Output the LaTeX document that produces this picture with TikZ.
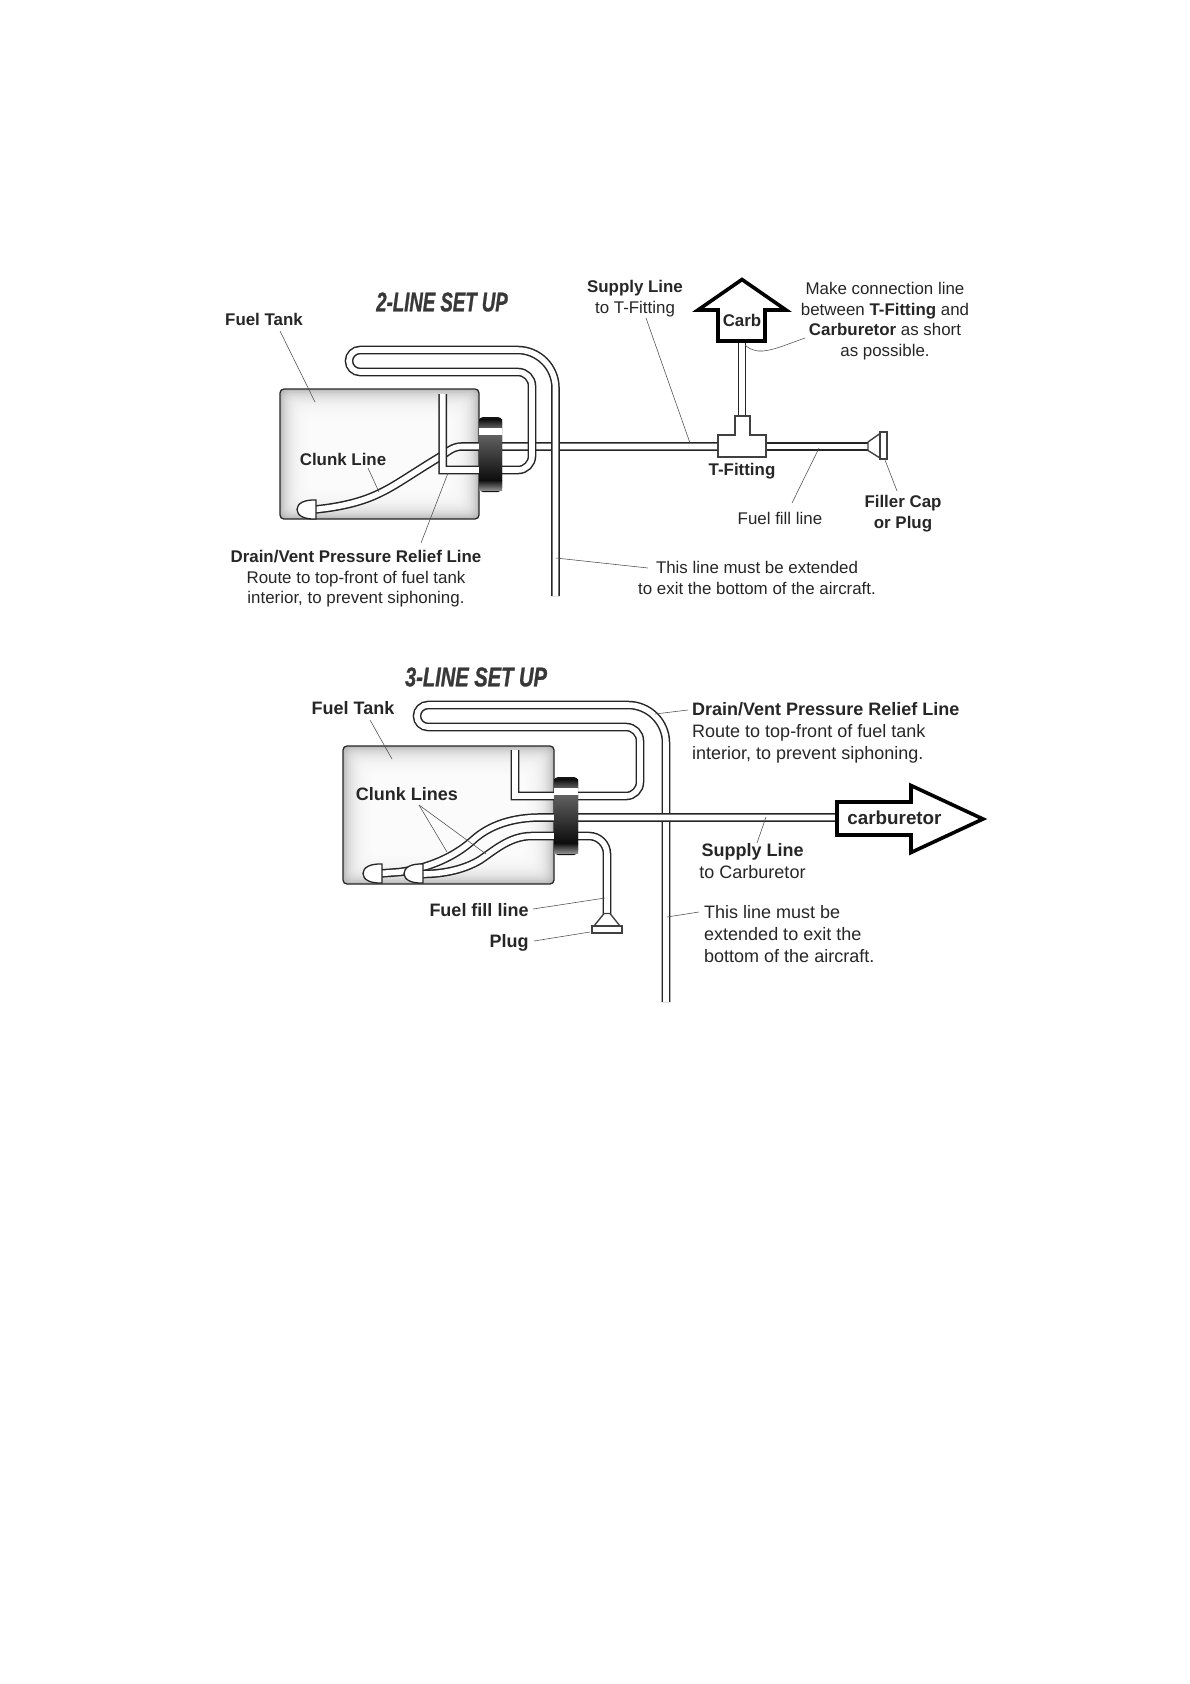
\documentclass[tikz,border=0pt]{standalone}
\usepackage{fontspec}
\setmainfont{Liberation Sans}
\newfontfamily\titlefont{Liberation Sans}[BoldItalicFeatures={FakeBold=1.2}]
\usepackage{xcolor}
\definecolor{inkline}{HTML}{262626}

\tikzset{
  tube/.style={draw=inkline, line width=1.5pt, double=white, double distance=5.6pt},
  leader/.style={draw=black!70, line width=0.55pt},
  label/.style={text=inkline, font=\fontsize{16.9}{20.6}\selectfont, inner sep=1pt, align=center},
  boldlabel/.style={label, font=\fontsize{16.9}{20.6}\selectfont\bfseries},
  biglabel/.style={label, font=\fontsize{18}{21.9}\selectfont},
  bigbold/.style={label, font=\fontsize{18}{21.9}\selectfont\bfseries},
  settitle/.style={text=black!78, font=\titlefont\fontsize{27}{27}\selectfont\bfseries\itshape, inner sep=0pt},
  flow/.style={draw=black, line width=3.6pt, fill=white, miter limit=10},
  fitting/.style={draw=black!75, line width=1.4pt, fill=white}
}

% soft grey rim of a tank, x0 y0 x1 y1
\newcommand{\tankbody}[4]{
  \fill[black!26, rounded corners=4pt] (#1,#2) rectangle (#3,#4);
  \foreach \i in {1,...,18}
    \fill[white, opacity=0.2, rounded corners=8pt]
      (#1+1.9*\i,#2+1.9*\i) rectangle (#3-1.9*\i,#4-1.9*\i);
  \draw[inkline, line width=1.3pt, rounded corners=4pt] (#1,#2) rectangle (#3,#4);
}

% bung on the tank front, x0 y0 x1 y1
\newcommand{\tankbung}[4]{
  \fill[black!92, rounded corners=4pt] (#1,#2) rectangle (#3,#4);
  \fill[top color=black!95, bottom color=black!62] (#1,#2+2) rectangle (#3,#2+11);
  \fill[white] (#1,#2+11) rectangle (#3,#2+18);
  \fill[top color=black!62, bottom color=black!95] (#1,#2+18) rectangle (#3,#4-12);
  \fill[top color=black!95, bottom color=black!45] (#1,#4-12) rectangle (#3,#4-2);
}

% clunk weight, flat side at x
\newcommand{\clunkcap}[2]{
  \draw[inkline, line width=1.3pt, fill=white] (#1,#2-9.5) .. controls (#1-12,#2-10) and (#1-19,#2-6) .. (#1-19,#2)
    .. controls (#1-19,#2+6) and (#1-12,#2+10) .. (#1,#2+9.5) -- cycle;
}

\begin{document}
\begin{tikzpicture}[x=1pt, y=-1pt]
    \useasboundingbox[fill=white] (0,0) rectangle (1190,1684);

    % 2-line set up
    \node[settitle, xscale=0.69] (titleTwo) at (442,302) {2-LINE SET UP};
    \tankbody{280}{389}{479}{519}

    % Clunk line and supply
    \draw[tube] (718,446.5) -- (462,446.5) .. controls (452,446.5) and (448,452) .. (438,458)
        .. controls (410,475) and (395,486) .. (380,493) .. controls (362,502) and (340,507) .. (315,509.5);
    \clunkcap{316}{509.5}

    % Vent line
    \draw[tube, rounded corners=38pt] (555.5,596) -- (555.5,350)
        [rounded corners=11pt] -- (349,350) -- (349,372)
        [rounded corners=14pt] -- (532,372) -- (532,470)
        [rounded corners=0pt] -- (442.7,470) -- (442.7,394);
    \tankbung{479}{417}{502}{492}

    % T fitting, carb arrow and filler
    \draw[tube] (742,338) -- (742,417);
    \draw[tube] (764,446.5) -- (868,446.5);
    \draw[flow] (718,341) -- (718,310) -- (698,310) -- (742,279.5) -- (786,310) -- (765,310) -- (765,341) -- cycle;
    \draw[fitting] (718,435) -- (735,435) -- (735,416) -- (750,416) -- (750,435) -- (766,435) -- (766,457) -- (718,457) -- cycle;
    \draw[fitting] (868,442) -- (880,433.5) -- (880,458) -- (868,450.5) -- cycle;
    \draw[fitting] (880,432) rectangle (887,459);

    % Labels
    \node[boldlabel] (lblTankA) at (264,319.5) {Fuel Tank};
    \node[boldlabel] (lblClunkA) at (343,459) {Clunk Line};
    \node[label, anchor=north] (lblDrainA) at (356,549) {\textbf{Drain/Vent Pressure Relief Line}\\Route to top-front of fuel tank\\interior, to prevent siphoning.};
    \node[label, anchor=north] (lblSupplyA) at (635,279) {\textbf{Supply Line}\\to T-Fitting};
    \node[boldlabel] (lblCarbA) at (742,320) {Carb};
    \node[label, anchor=north] (lblShort) at (885,281) {Make connection line\\between \textbf{T-Fitting} and\\\textbf{Carburetor} as short\\as possible.};
    \node[boldlabel] (lblTee) at (742,471) {T-Fitting};
    \node[label] (lblFillA) at (780,518) {Fuel fill line};
    \node[boldlabel, anchor=north] (lblCap) at (903,494) {Filler Cap\\or Plug};
    \node[label, anchor=north] (lblExitA) at (757,560) {This line must be extended\\to exit the bottom of the aircraft.};

    % Leaders
    \coordinate (fromTankA) at (280,331);
    \coordinate (atTankA) at (315,402);
    \coordinate (fromClunkA) at (368,468);
    \coordinate (atClunkA) at (379,492);
    \coordinate (fromDrainA) at (421,543);
    \coordinate (atDrainA) at (448,473);
    \coordinate (fromSupplyA) at (646,318);
    \coordinate (atSupplyA) at (690,443);
    \coordinate (fromExitA) at (648,568);
    \coordinate (atExitA) at (556,558);
    \coordinate (fromShort) at (805,338);
    \coordinate (atShort) at (745,345);
    \coordinate (fromFillA) at (792,503);
    \coordinate (atFillA) at (819,448);
    \coordinate (fromCap) at (897,491);
    \coordinate (atCap) at (885,460);
    \draw[leader] (fromTankA) -- (atTankA);
    \draw[leader] (fromClunkA) -- (atClunkA);
    \draw[leader] (fromDrainA) -- (atDrainA);
    \draw[leader] (fromSupplyA) -- (atSupplyA);
    \draw[leader] (fromExitA) -- (atExitA);
    \draw[leader] (fromShort) .. controls (785,345) and (770,352) .. (758,351) .. controls (752,350) and (748,348) .. (atShort);
    \draw[leader] (fromFillA) -- (atFillA);
    \draw[leader] (fromCap) -- (atCap);

    % 3-line set up
    \node[settitle, xscale=0.745] (titleThree) at (476,677) {3-LINE SET UP};
    \tankbody{343}{746}{554}{884}

    % Vent line
    \draw[tube, rounded corners=38pt] (666,1002) -- (666,705)
        [rounded corners=11pt] -- (417,705) -- (417,727)
        [rounded corners=14pt] -- (640,727) -- (640,796)
        [rounded corners=0pt] -- (515,796) -- (515,750);

    % Clunk lines
    \draw[tube] (840,817.5) -- (540,817.5) .. controls (515,817.5) and (490,824) .. (472,841)
        .. controls (455,856) and (430,868) .. (400,872) -- (380,873.5);
    \clunkcap{382}{873.5}
    \draw[tube] (560,836) -- (532,836) .. controls (510,836) and (495,850) .. (480,860)
        .. controls (465,869) and (445,874) .. (422,874);
    \clunkcap{423}{873.5}

    % Fill line and plug
    \draw[tube, rounded corners=18pt] (570,836) -- (607,836) -- (607,914);
    \draw[fitting] (604,913.5) -- (610,913.5) -- (620,926) -- (594,926) -- cycle;
    \draw[fitting] (592,926) rectangle (622,933);
    \tankbung{554}{777}{578}{855}

    % Carburetor arrow
    \draw[flow] (837,802) -- (911,802) -- (911,785.5) -- (983,819) -- (911,852.5) -- (911,835) -- (837,835) -- cycle;

    % Labels
    \node[bigbold] (lblTankB) at (353,708.5) {Fuel Tank};
    \node[bigbold] (lblClunkB) at (407,794.5) {Clunk Lines};
    \node[biglabel, anchor=north west, align=left] (lblDrainB) at (691,701.5) {\textbf{Drain/Vent Pressure Relief Line}\\Route to top-front of fuel tank\\interior, to prevent siphoning.};
    \node[bigbold, font=\fontsize{18.8}{21}\selectfont\bfseries] (lblCarbB) at (894.5,817.5) {carburetor};
    \node[biglabel, anchor=north] (lblSupplyB) at (752.5,842.5) {\textbf{Supply Line}\\to Carburetor};
    \node[biglabel, anchor=north west, align=left] (lblExitB) at (703,904) {This line must be\\extended to exit the\\bottom of the aircraft.};
    \node[bigbold] (lblFillB) at (479,910.5) {Fuel fill line};
    \node[bigbold] (lblPlug) at (509,942.5) {Plug};

    % Leaders
    \coordinate (fromTankB) at (370,720);
    \coordinate (atTankB) at (392,759);
    \coordinate (fromClunkB) at (419,805);
    \coordinate (atClunkC) at (447,852);
    \coordinate (atClunkD) at (486,854);
    \coordinate (fromDrainB) at (688,710);
    \coordinate (atDrainB) at (655,714);
    \coordinate (fromSupplyB) at (757,843);
    \coordinate (atSupplyB) at (766,817);
    \coordinate (fromExitB) at (699,912);
    \coordinate (atExitB) at (667,917);
    \coordinate (fromFillB) at (533,909);
    \coordinate (atFillB) at (605,898);
    \coordinate (fromPlug) at (534,941);
    \coordinate (atPlug) at (590,932);
    \draw[leader] (fromTankB) -- (atTankB);
    \draw[leader] (fromClunkB) -- (atClunkC);
    \draw[leader] (fromClunkB) -- (atClunkD);
    \draw[leader] (fromDrainB) -- (atDrainB);
    \draw[leader] (fromSupplyB) -- (atSupplyB);
    \draw[leader] (fromExitB) -- (atExitB);
    \draw[leader] (fromFillB) -- (atFillB);
    \draw[leader] (fromPlug) -- (atPlug);
\end{tikzpicture}
\end{document}
